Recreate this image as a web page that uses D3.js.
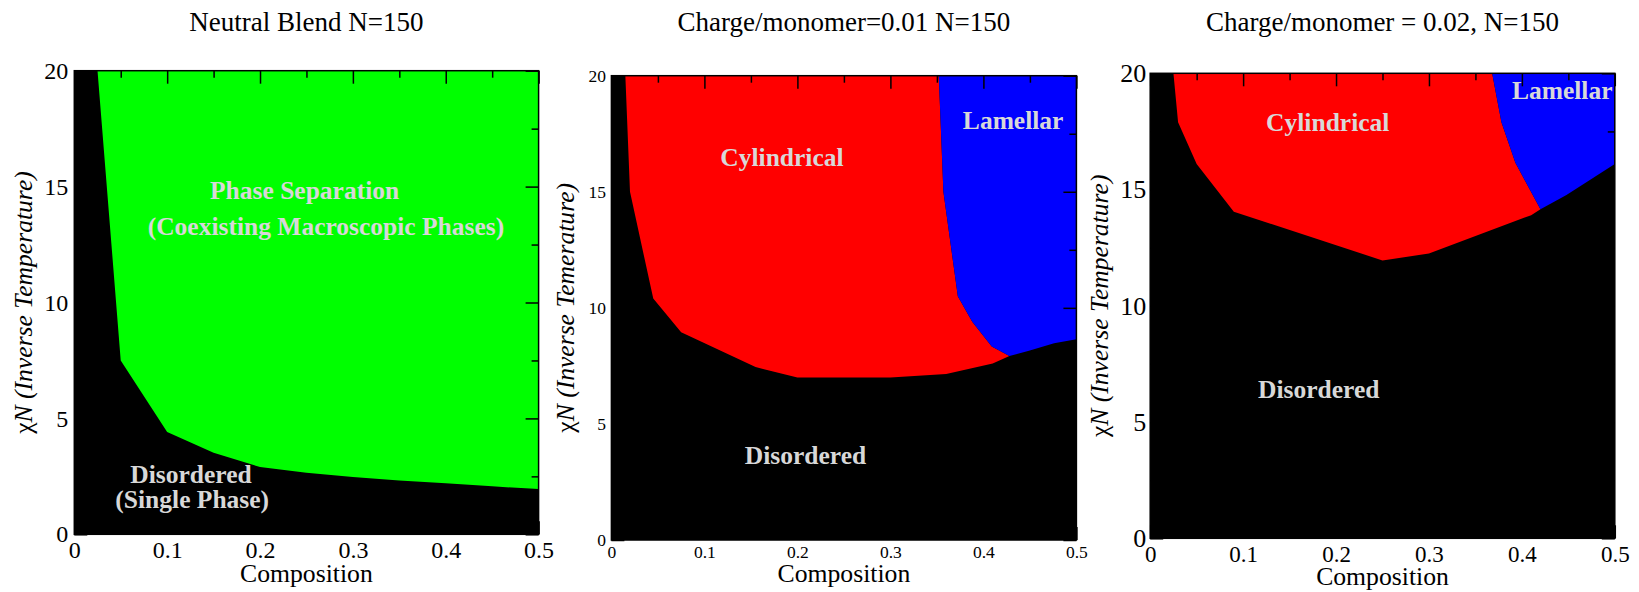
<!DOCTYPE html>
<html>
<head>
<meta charset="utf-8">
<script src="https://cdn.jsdelivr.net/npm/d3@7"></script>
<style>
  html, body { margin: 0; padding: 0; background: #fff; }
  svg { display: block; }
  text { font-family: "Liberation Serif", "Times New Roman", serif; }
</style>
</head>
<body>
<svg id="chart" width="1639" height="592"></svg>
<script>
// ---- Phase-boundary data (composition vs. chi*N) ----

// Neutral blend: disordered / macroscopic phase separation boundary
const neutralComp = [0.025, 0.05, 0.1, 0.15, 0.2, 0.25, 0.3, 0.35, 0.4, 0.45, 0.5];
const neutralChi  = [20, 7.5, 4.41, 3.52, 2.9, 2.65, 2.47, 2.32, 2.2, 2.07, 1.95];

// Charge/monomer = 0.01: disordered / cylindrical boundary
const cylBoundaryComp01 = [0.015, 0.02, 0.045, 0.075, 0.155, 0.2, 0.3, 0.36, 0.41, 0.428];
const cylBoundaryChi01  = [20, 15, 10.4, 8.95, 7.45, 7.0, 7.0, 7.15, 7.6, 7.93];
// disordered / lamellar boundary
const lamBoundaryComp01 = [0.428, 0.449, 0.476, 0.5];
const lamBoundaryChi01  = [7.93, 8.15, 8.47, 8.65];
// cylindrical / lamellar boundary
const cylLamComp01 = [0.352, 0.357, 0.3725, 0.388, 0.409, 0.428];
const cylLamChi01  = [20, 15, 10.5, 9.4, 8.33, 7.93];

// Charge/monomer = 0.02: disordered / cylindrical boundary
const cylBoundaryComp02 = [0.025, 0.03, 0.05, 0.09, 0.25, 0.3, 0.41, 0.42];
const cylBoundaryChi02  = [20, 17.9, 16.1, 14.05, 11.95, 12.25, 13.9, 14.15];
// disordered / lamellar boundary
const lamBoundaryComp02 = [0.42, 0.448, 0.5];
const lamBoundaryChi02  = [14.15, 14.77, 16.1];
// cylindrical / lamellar boundary
const cylLamComp02 = [0.368, 0.378, 0.393, 0.42];
const cylLamChi02  = [20, 17.9, 16.15, 14.15];

// Axes
const xDomain = [0, 0.5];
const yDomain = [0, 20];
const xTickValues = [0, 0.1, 0.2, 0.3, 0.4, 0.5];
const xTickLabels = ["0", "0.1", "0.2", "0.3", "0.4", "0.5"];
const xMinorValues = [0.05, 0.15, 0.25, 0.35, 0.45];
const yTickValues = [0, 5, 10, 15, 20];
const yTickLabels = ["0", "5", "10", "15", "20"];
const yMinorValues = [2.5, 7.5, 12.5, 17.5];

const titles = ["Neutral Blend N=150", "Charge/monomer=0.01 N=150", "Charge/monomer = 0.02, N=150"];
const xLabel = "Composition";
const yLabelTails = [" (Inverse Temperature)", " (Inverse Temerature)", " (Inverse Temperature)"];

// Region annotations: [text, composition, chiN]
const regionLabels = [
  [["Phase Separation", 0.248, 14.47], ["(Coexisting Macroscopic Phases)", 0.271, 12.91],
   ["Disordered", 0.1257, 2.2], ["(Single Phase)", 0.127, 1.13]],
  [["Cylindrical", 0.1834, 16.09], ["Lamellar", 0.432, 17.72], ["Disordered", 0.2087, 3.26]],
  [["Cylindrical", 0.1911, 17.53], ["Lamellar", 0.4434, 18.88], ["Disordered", 0.1814, 6.05]]
];

const zip = (a, b) => a.map((v, i) => [v, b[i]]);

// Region polygons for each panel, built from the boundaries
const regions = [
  [
    { fill: "#00ff00", pts: zip(neutralComp, neutralChi).concat([[0.5, 20]]) }
  ],
  [
    { fill: "#ff0000", pts: zip(cylBoundaryComp01, cylBoundaryChi01)
        .concat(zip(cylLamComp01, cylLamChi01).reverse().slice(1)) },
    { fill: "#0000ff", pts: zip(cylLamComp01, cylLamChi01)
        .concat(zip(lamBoundaryComp01, lamBoundaryChi01).slice(1)).concat([[0.5, 20]]) }
  ],
  [
    { fill: "#ff0000", pts: zip(cylBoundaryComp02, cylBoundaryChi02)
        .concat(zip(cylLamComp02, cylLamChi02).reverse().slice(1)) },
    { fill: "#0000ff", pts: zip(cylLamComp02, cylLamChi02)
        .concat(zip(lamBoundaryComp02, lamBoundaryChi02).slice(1)).concat([[0.5, 20]]) }
  ]
];

// Panel layout
const panels = [
  { left: 74.3, top: 70.7, width: 464.3, height: 463.6, xFont: 24, yFont: 24, xPad: 7, yPad: 6,
    yLabelOff: 42.4, xLabelOff: 47.4 },
  { left: 611.4, top: 75.7, width: 465, height: 464.3, xFont: 17.5, yFont: 17.5, xPad: 6, yPad: 5.5,
    yLabelOff: 37.7, xLabelOff: 41.7 },
  { left: 1150.2, top: 73.3, width: 464.6, height: 465, xFont: 23, yFont: 26, xPad: 7, yPad: 4,
    yLabelOff: 41.9, xLabelOff: 46.7 }
];

const svg = d3.select("#chart");
const labelColor = "#d8d8d8";

panels.forEach((p, i) => {
  const x = d3.scaleLinear().domain(xDomain).range([0, p.width]);
  const y = d3.scaleLinear().domain(yDomain).range([p.height, 0]);
  const g = svg.append("g").attr("transform", `translate(${p.left},${p.top})`);

  // disordered background
  g.append("rect").attr("x", x(0)).attr("y", y(20))
    .attr("width", x(0.5) - x(0)).attr("height", y(0) - y(20))
    .attr("fill", "#000");

  const line = d3.line().x(d => x(d[0])).y(d => y(d[1]));
  regions[i].forEach(r => {
    g.append("path").attr("d", line(r.pts) + "Z").attr("fill", r.fill);
  });

  // inward ticks on all sides
  const tickStyle = sel => {
    sel.select(".domain").remove();
    sel.selectAll("line").attr("stroke", "#000").attr("stroke-width", 1.5);
  };
  g.append("g").attr("transform", `translate(0,${p.height})`)
    .call(d3.axisBottom(x).tickValues(xTickValues).tickSize(-13).tickPadding(p.xPad)
      .tickFormat((d, k) => xTickLabels[k]))
    .call(tickStyle)
    .call(s => s.selectAll("text").attr("fill", "#000").attr("font-size", p.xFont)
      .attr("font-family", "Liberation Serif, Times New Roman, serif"));
  g.append("g").attr("transform", `translate(0,${p.height})`)
    .call(d3.axisBottom(x).tickValues(xMinorValues).tickSize(-7).tickFormat(""))
    .call(tickStyle);
  g.append("g")
    .call(d3.axisTop(x).tickValues(xTickValues).tickSize(-13).tickFormat(""))
    .call(tickStyle);
  g.append("g")
    .call(d3.axisTop(x).tickValues(xMinorValues).tickSize(-7).tickFormat(""))
    .call(tickStyle);
  g.append("g")
    .call(d3.axisLeft(y).tickValues(yTickValues).tickSize(-13).tickPadding(p.yPad)
      .tickFormat((d, k) => yTickLabels[k]))
    .call(tickStyle)
    .call(s => s.selectAll("text").attr("fill", "#000").attr("font-size", p.yFont)
      .attr("font-family", "Liberation Serif, Times New Roman, serif"));
  g.append("g")
    .call(d3.axisLeft(y).tickValues(yMinorValues).tickSize(-7).tickFormat(""))
    .call(tickStyle);
  g.append("g").attr("transform", `translate(${p.width},0)`)
    .call(d3.axisRight(y).tickValues(yTickValues).tickSize(-13).tickFormat(""))
    .call(tickStyle);
  g.append("g").attr("transform", `translate(${p.width},0)`)
    .call(d3.axisRight(y).tickValues(yMinorValues).tickSize(-7).tickFormat(""))
    .call(tickStyle);

  // frame
  g.append("rect").attr("x", 0).attr("y", 0).attr("width", p.width).attr("height", p.height)
    .attr("fill", "none").attr("stroke", "#000").attr("stroke-width", 1.5);

  // region annotations
  regionLabels[i].forEach(([t, cx, cy]) => {
    g.append("text").attr("x", x(cx)).attr("y", y(cy))
      .attr("text-anchor", "middle").attr("font-weight", "bold")
      .attr("font-size", 25.5).attr("fill", labelColor).text(t);
  });

  // title
  svg.append("text").attr("x", p.left + p.width / 2).attr("y", 30.5)
    .attr("text-anchor", "middle").attr("font-size", 27).attr("fill", "#000")
    .text(titles[i]);

  // x label
  svg.append("text").attr("x", p.left + p.width / 2).attr("y", p.top + p.height + p.xLabelOff)
    .attr("text-anchor", "middle").attr("font-size", 25.7).attr("fill", "#000")
    .text(xLabel);

  // y label
  const yl = svg.append("text")
    .attr("transform", `translate(${p.left - p.yLabelOff},${p.top + p.height / 2}) rotate(-90)`)
    .attr("text-anchor", "middle").attr("font-size", 25.6).attr("fill", "#000");
  yl.append("tspan").text("\u03c7");
  yl.append("tspan").attr("font-style", "italic").text("N" + yLabelTails[i]);
});
</script>
</body>
</html>
